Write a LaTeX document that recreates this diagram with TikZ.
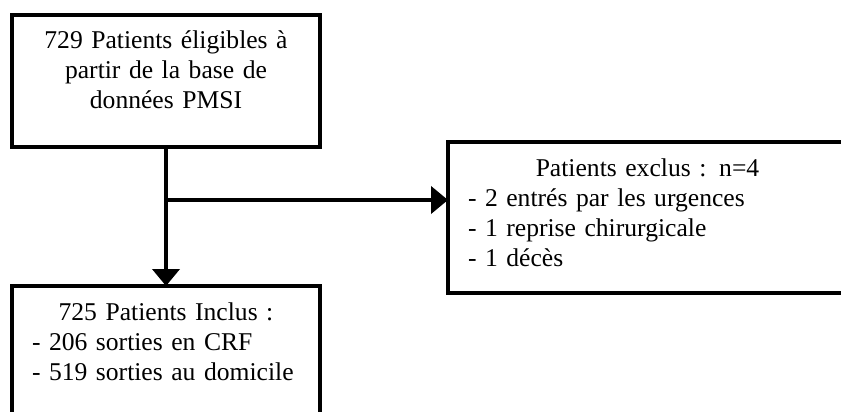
\documentclass[tikz,border=0pt]{standalone}
\usepackage{fontspec}
\setmainfont{Liberation Serif}
\usetikzlibrary{arrows.meta}

\begin{document}
\begin{tikzpicture}[x=1pt, y=-1pt,
    box/.style = {shape=rectangle, draw, line width=4.5pt,
      anchor=north west, outer sep=0pt, inner ysep=14pt,
      text height=20pt, font=\fontsize{25.6}{30}\selectfont},
    flow/.style = {line width=4pt,
      -{Triangle[width=27pt, length=17pt]}}]
    \clip (0,0) rectangle (841,412);
    \node[box, inner xsep=14pt, text width=280pt, align=center,
      text depth=84pt] (elig) at (12,15)
        {729 Patients éligibles à\\ partir de la base de\\ données PMSI};
    \node[box, inner xsep=20pt, text width=268pt, align=left,
      text depth=140pt] (incl) at (12,286)
        {\makebox[\linewidth]{725 Patients Inclus :}\\
         - 206 sorties en CRF\\
         - 519 sorties au domicile};
    \node[box, inner xsep=20pt, text width=359pt, align=left,
      text depth=103pt] (excl) at (448,142)
        {\makebox[\linewidth]{Patients exclus : n=4}\\
         - 2 entrés par les urgences\\
         - 1 reprise chirurgicale\\
         - 1 décès};
    \coordinate (split) at (elig.south |- 0,200);
    \draw[flow] (elig.south) -- (incl.north);
    \draw[flow] (split) -- (split -| excl.west);
\end{tikzpicture}
\end{document}
